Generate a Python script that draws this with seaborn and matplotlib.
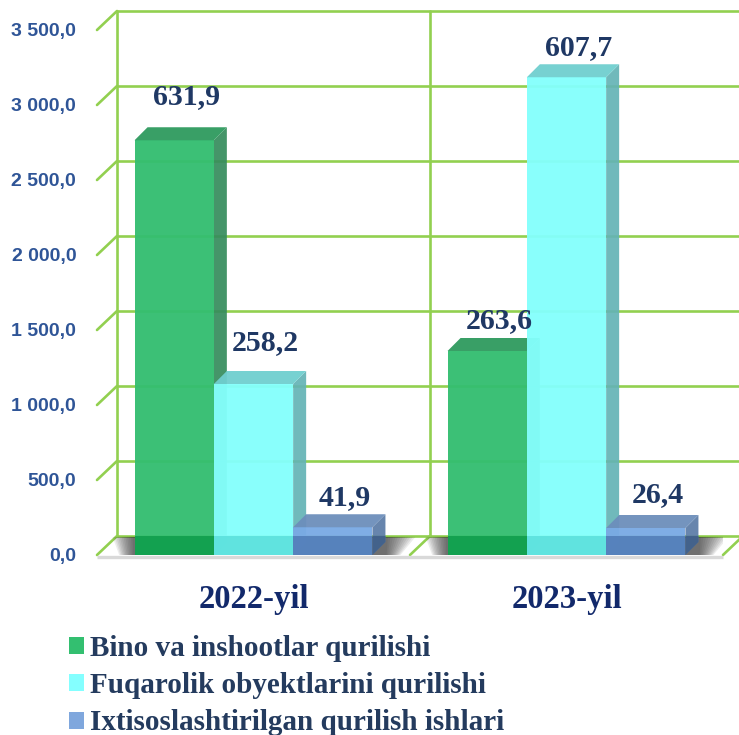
import numpy as np
import pandas as pd
import matplotlib
matplotlib.use("Agg")
import matplotlib.pyplot as plt
from matplotlib.patches import Polygon, Patch, Rectangle
import seaborn as sns

# ---------------- data ----------------
years = ["2022-yil", "2023-yil"]
types = ["Bino va inshootlar qurilishi",
         "Fuqarolik obyektlarini qurilishi",
         "Ixtisoslashtirilgan qurilish ishlari"]
bino = [2765, 1360]
fuqarolik = [1140, 3185]
ixtisos = [185, 180]
labels_bino = ["631,9", "263,6"]
labels_fuqarolik = ["258,2", "607,7"]
labels_ixtisos = ["41,9", "26,4"]
y_ticks = [0, 500, 1000, 1500, 2000, 2500, 3000, 3500]

# ---------------- styles ----------------
front_colors = ["#34BE70", "#84FFFC", "#7AAAE4"]
top_colors = ["#2E9A5E", "#70CFCF", "#6C8EBB"]
side_colors = ["#358C5C", "#64B3B5", "#5A7BA6"]
strip_colors = ["#12A04F", "#5EE2DE", "#5580BB"]
side_strip_colors = ["#2A7048", "#4E9A9C", "#41608A"]
legend_colors = ["#33BF70", "#84FFFF", "#7FA7DD"]
grid_color = "#92D050"
tick_color = "#2F5597"
label_color = "#1F3864"
cat_color = "#12296B"
legend_text_color = "#243B5E"
# label centre height above bar front top (px), order: hue-major, year-minor
label_off_px = [[44, 30], [41, 30], [30, 33]]

df = pd.DataFrame({
    "year": years * 3,
    "type": [types[0]] * 2 + [types[1]] * 2 + [types[2]] * 2,
    "value": bino + fuqarolik + ixtisos,
})
all_labels = [labels_bino, labels_fuqarolik, labels_ixtisos]

W, H = 739, 735
fig = plt.figure(figsize=(W / 100, H / 100), dpi=100)
sns.set_style("white")
plt.rcParams["font.family"] = ["Liberation Serif", "DejaVu Serif"]

AX_L, AX_R, AX_B, AX_T = 97, 723, 555, 30
ax = fig.add_axes([AX_L / W, 1 - AX_B / H, (AX_R - AX_L) / W, (AX_B - AX_T) / H])
ax.set_facecolor("none")

sns.barplot(data=df, x="year", y="value", hue="type", hue_order=types,
            palette=front_colors, width=0.76, saturation=1, legend=False,
            ax=ax, alpha=0.96)
bar_patches = [p for p in ax.patches if isinstance(p, Rectangle) and p.get_height() > 0]
ax.set_xlim(-0.5, 1.5)
ax.set_ylim(0, 3500)

pxx = (AX_R - AX_L) / 2.0      # px per x unit
pxy = (AX_B - AX_T) / 3500.0   # px per y unit
def dxp(p): return p / pxx
def dyp(p): return p / pxy

wall_dx, wall_dy = dxp(20), dyp(19)
bar_dx, bar_dy = dxp(13), dyp(13)

# ---------- back wall / grid ----------
glw = 1.9
for v in y_ticks:
    ax.plot([-0.5 + wall_dx, 1.5 + wall_dx], [v + wall_dy] * 2, color=grid_color,
            lw=glw, clip_on=False, zorder=1, solid_capstyle="butt")
    ax.plot([-0.5, -0.5 + wall_dx], [v, v + wall_dy], color=grid_color,
            lw=glw, clip_on=False, zorder=1)
for xv in [-0.5, 0.5]:
    ax.plot([xv + wall_dx] * 2, [wall_dy, 3500 + wall_dy], color=grid_color,
            lw=glw, clip_on=False, zorder=1)
for xv in [0.5, 1.5]:
    ax.plot([xv, xv + wall_dx], [0, wall_dy], color=grid_color,
            lw=glw, clip_on=False, zorder=1)
# floor front edge
ax.plot([-0.5, 1.5], [dyp(-1.5)] * 2, color="#D9D9D9", lw=2.4, clip_on=False,
        zorder=1.5, solid_capstyle="butt")

# ---------- shadows ----------
for i in range(len(years)):
    L, R = i - 0.38, i + 0.38 + bar_dx
    n = 12
    for k in range(n):
        f = 1 - k / n
        el = dxp(22) * f
        er = dxp(30) * f
        poly = [(L - el * 0.7, 0), (R + er * 0.5, 0),
                (R + er, wall_dy * 0.95), (L - el, wall_dy * 0.95)]
        ax.add_patch(Polygon(poly, closed=True, facecolor="#303030",
                             edgecolor="none", alpha=0.09, zorder=1.6))

# ---------- 3D bars ----------
bars = sorted(bar_patches, key=lambda p: p.get_x())
for j, p in enumerate(bars):
    hue_i = j % 3
    grp = j // 3
    z = 3 + j * 0.1
    x0, w, h = p.get_x(), p.get_width(), p.get_height()
    p.set_zorder(z)
    p.set_edgecolor("none")
    top = [(x0, h), (x0 + w, h), (x0 + w + bar_dx, h + bar_dy), (x0 + bar_dx, h + bar_dy)]
    side = [(x0 + w, 0), (x0 + w + bar_dx, bar_dy), (x0 + w + bar_dx, h + bar_dy), (x0 + w, h)]
    ax.add_patch(Polygon(top, closed=True, facecolor=top_colors[hue_i],
                         edgecolor="none", alpha=0.95, zorder=z))
    ax.add_patch(Polygon(side, closed=True, facecolor=side_colors[hue_i],
                         edgecolor="none", alpha=0.92, zorder=z - 0.01))
    # darker lower strip (bar over floor shadow)
    sh = min(wall_dy, h)
    strip = [(x0, 0), (x0 + w, 0), (x0 + w, sh), (x0, sh)]
    ax.add_patch(Polygon(strip, closed=True, facecolor=strip_colors[hue_i],
                         edgecolor="none", alpha=0.95, zorder=z + 0.005))
    sstrip = [(x0 + w, 0), (x0 + w + bar_dx, bar_dy),
              (x0 + w + bar_dx, min(wall_dy, h + bar_dy)), (x0 + w, sh)]
    ax.add_patch(Polygon(sstrip, closed=True, facecolor=side_strip_colors[hue_i],
                         edgecolor="none", alpha=0.92, zorder=z + 0.004))
    # value label
    ax.text(x0 + w / 2 + dxp(12), h + dyp(label_off_px[hue_i][grp]),
            all_labels[hue_i][grp], ha="center", va="center",
            fontsize=21.5, fontweight="bold", color=label_color,
            family="Liberation Serif", zorder=10)

# ---------- axes cosmetics ----------
for s in ax.spines.values():
    s.set_visible(False)
ax.set_xlabel("")
ax.set_ylabel("")
ax.set_yticks(y_ticks)
ax.set_yticklabels([f"{v:,.1f}".replace(",", " ").replace(".", ",") for v in y_ticks])
ax.tick_params(axis="y", length=0, pad=15)
ax.tick_params(axis="x", length=0, pad=21)
for t in ax.get_yticklabels():
    t.set_fontfamily("Liberation Sans")
    t.set_fontweight("bold")
    t.set_fontsize(14)
    t.set_color(tick_color)
for t in ax.get_xticklabels():
    t.set_fontfamily("Liberation Serif")
    t.set_fontweight("bold")
    t.set_fontsize(23.5)
    t.set_color(cat_color)
ax.grid(False)

# ---------- legend ----------
handles = [Patch(facecolor=c, edgecolor="none") for c in legend_colors]
leg = fig.legend(handles, types, loc="upper left",
                 bbox_to_anchor=(69 / W, 1 - 635 / H), frameon=False,
                 borderpad=0, borderaxespad=0, handlelength=0.52,
                 handleheight=0.52, handletextpad=0.2, labelspacing=0.35,
                 prop={"family": "Liberation Serif", "weight": "bold", "size": 21})
for t in leg.get_texts():
    t.set_color(legend_text_color)

fig.savefig("out.png", dpi=100)
